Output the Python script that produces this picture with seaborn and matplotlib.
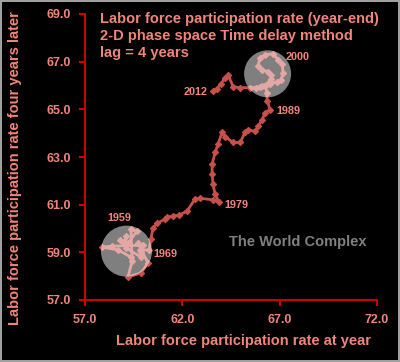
import matplotlib
matplotlib.use('Agg')
import matplotlib.pyplot as plt
import seaborn as sns

# labor force participation rate: value at year (x) vs value four years later (y)
x_now = [
    59.36, 58.70, 57.87, 58.39, 59.98, 59.72, 60.24, 59.88, 59.21, 59.42,
    59.36, 59.67, 59.21, 58.80, 59.00, 59.11, 59.11, 59.88, 59.88, 59.83,
    60.29,
    60.39, 60.49, 60.70, 61.11, 61.21, 61.52, 61.83, 62.24, 62.65, 62.91,
    63.58, 63.89,
    63.68, 63.58, 63.53, 63.53, 63.68, 63.83, 64.04, 64.19, 64.61, 64.97,
    65.22, 65.38, 65.74, 65.89, 66.10, 66.25, 66.51,
    66.35, 66.35, 66.25, 65.99, 66.30, 66.56, 66.56, 66.40, 66.10, 65.89,
    65.99, 66.25, 66.66, 66.92, 67.12,
    67.18, 67.07, 66.87, 66.51, 66.10, 65.79, 65.48, 64.97, 64.61, 64.35,
    64.19, 63.99, 63.78, 63.58]
y_later = [
    58.80, 59.10, 59.22, 59.26, 59.30, 59.39, 58.55, 58.13, 57.97, 58.64,
    59.97, 59.89, 59.39, 59.51, 59.39, 59.68, 59.18, 58.80, 59.01, 59.10,
    59.10,
    59.56, 60.02, 60.22, 60.39, 60.47, 60.52, 60.56, 60.73, 61.23, 61.27,
    61.20, 61.10,
    61.44, 61.85, 62.27, 62.69, 63.19, 63.53, 64.03, 63.86, 63.61, 63.61,
    64.03, 64.15, 64.07, 64.28, 64.57, 64.86, 64.99,
    65.36, 65.70, 65.99, 65.95, 66.03, 66.28, 66.45, 66.58, 66.66, 66.83,
    67.16, 67.29, 67.33, 67.08, 66.91,
    66.53, 66.24, 66.16, 66.07, 65.99, 65.91, 65.91, 65.91, 65.95, 66.45,
    66.33, 66.07, 65.87, 65.78]

# year labels and the point index they belong to
year_labels = ['1959', '1969', '1979', '1989', '2000', '2012']
year_idx = [10, 20, 32, 49, 64, 78]
year_offsets = [(-12, 11), (16, -4), (17, -3), (18, -1), (16, 7), (-18, -1)]

# highlighted attractor regions
circle_x = [59.13, 66.38]
circle_y = [59.05, 66.49]
circle_size = [1350, 1145]

x_ticks = [57, 62, 67, 72]
y_ticks = [57, 59, 61, 63, 65, 67, 69]

title_lines = ['Labor force participation rate (year-end)',
               '2-D phase space Time delay method',
               'lag = 4 years']

sns.set_style('dark', {'axes.facecolor': 'black', 'figure.facecolor': 'black'})
plt.rcParams['font.family'] = ['Liberation Sans', 'DejaVu Sans']
plt.rcParams['font.weight'] = 'bold'

salmon = '#F0857A'
line_red = '#C8504A'
spine_red = '#CC0000'

fig = plt.figure(figsize=(4, 3.62), dpi=100)
fig.patch.set_facecolor('black')
fig.patch.set_edgecolor('#a0a0a0')
fig.patch.set_linewidth(1.5)
ax = fig.add_axes([85 / 400, 1 - 300 / 362, 292 / 400, 286 / 362])

sns.lineplot(x=x_now, y=y_later, sort=False, estimator=None, ax=ax,
             color=line_red, linewidth=2.0, marker='D', markersize=3.2,
             markeredgecolor=line_red, zorder=2)

ax.scatter(circle_x, circle_y, s=circle_size, color='white', alpha=0.5,
           linewidths=0, zorder=3)

for lab, i, off in zip(year_labels, year_idx, year_offsets):
    ax.annotate(lab, (x_now[i], y_later[i]), xytext=off, textcoords='offset pixels',
                ha='center', va='center', fontsize=7.8, fontweight='bold',
                color=salmon, zorder=4)

ax.set_xlim(57, 72)
ax.set_ylim(57, 69)
ax.set_xticks(x_ticks)
ax.set_yticks(y_ticks)
ax.set_xticklabels([f'{v:.1f}' for v in x_ticks])
ax.set_yticklabels([f'{v:.1f}' for v in y_ticks])
ax.grid(False)

for s in ['top', 'right']:
    ax.spines[s].set_visible(False)
for s in ['left', 'bottom']:
    ax.spines[s].set_visible(True)
    ax.spines[s].set_color(spine_red)
    ax.spines[s].set_linewidth(1.5)

ax.tick_params(axis='both', colors=spine_red, length=4, width=1.5,
               labelcolor=salmon, labelsize=9, direction='out')
ax.tick_params(axis='x', pad=6, bottom=True)
ax.tick_params(axis='y', pad=6, left=True)
for t in ax.get_xticklabels() + ax.get_yticklabels():
    t.set_fontweight('bold')

ax.set_xlabel('Labor force participation rate at year', fontsize=10.5,
              fontweight='bold', color=salmon)
ax.set_ylabel('Labor force participation rate four years later', fontsize=10.5,
              fontweight='bold', color=salmon)
ax.xaxis.set_label_coords(0.543, -0.12)
ax.yaxis.set_label_coords(-0.215, 0.46)

for line, yb in zip(title_lines, [0.9685, 0.909, 0.851]):
    ax.text(0.051, yb, line, transform=ax.transAxes, ha='left', va='baseline',
            fontsize=10.5, fontweight='bold', color=salmon)

ax.text(0.728, 0.2045, 'The World Complex', transform=ax.transAxes,
        ha='center', va='center', fontsize=10.5, fontweight='bold',
        color='#808080')

fig.savefig('out.png', dpi=100, facecolor='black', edgecolor=fig.get_edgecolor())
